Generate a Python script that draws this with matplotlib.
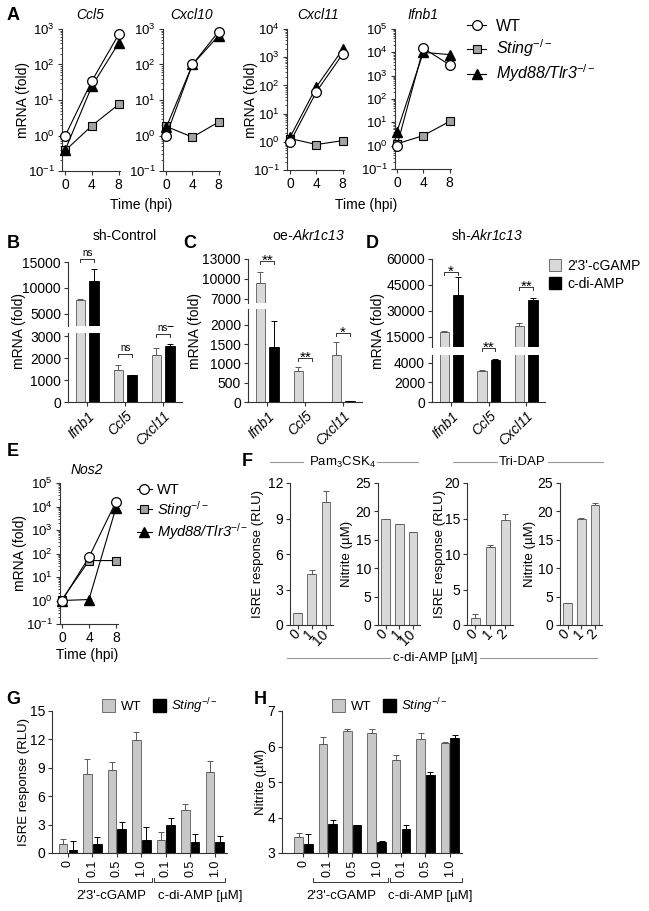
import numpy as np
import matplotlib
matplotlib.use('Agg')
from matplotlib import pyplot as plt
from matplotlib import ticker
from matplotlib.lines import Line2D
from matplotlib.patches import Patch

plt.rcParams['font.family'] = ['Liberation Sans', 'DejaVu Sans']
plt.rcParams['mathtext.fontset'] = 'custom'
plt.rcParams['mathtext.rm'] = 'Liberation Sans'
plt.rcParams['mathtext.it'] = 'Liberation Sans:italic'
plt.rcParams['mathtext.bf'] = 'Liberation Sans:bold'
plt.rcParams['font.size'] = 10
plt.rcParams['axes.linewidth'] = 0.8
plt.rcParams['axes.edgecolor'] = '#333333'
for a in ('xtick', 'ytick'):
    plt.rcParams[a + '.major.size'] = 3
    plt.rcParams[a + '.major.width'] = 0.8
    plt.rcParams[a + '.color'] = '#333333'
    plt.rcParams[a + '.labelcolor'] = 'black'
    plt.rcParams[a + '.major.pad'] = 2
    plt.rcParams[a + '.labelsize'] = 10

# ---------------- data ----------------
hpi = [0, 4, 8]
a_genes = ['Ccl5', 'Cxcl10', 'Cxcl11', 'Ifnb1']
a_wt = [[1.0, 35, 700], [1.0, 100, 850], [1.0, 60, 1300], [1.0, 15000, 2900]]
a_sting = [[0.38, 1.9, 7.5], [1.8, 0.9, 2.4], [1.3, 0.8, 1.1], [1.2, 2.7, 11]]
a_myd = [[0.4, 25, 400], [1.7, 100, 650], [1.5, 90, 1900], [4.0, 10000, 8000]]

bcd_genes = ['Ifnb1', 'Ccl5', 'Cxcl11']
b_cgamp = [7600, 1450, 2150]
b_cgamp_err = [300, 250, 300]
b_cdi = [11300, 1250, 2550]
b_cdi_err = [2400, 0, 100]
c_cgamp = [9400, 800, 1220]
c_cgamp_err = [1600, 110, 340]
c_cdi = [1430, 10, 15]
c_cdi_err = [670, 0, 0]
d_cgamp = [18000, 3200, 21500]
d_cgamp_err = [300, 100, 1500]
d_cdi = [39500, 4300, 36200]
d_cdi_err = [10000, 80, 1300]

nos2_wt = [1.0, 70, 16000]
nos2_sting = [1.1, 50, 50]
nos2_myd = [1.0, 1.1, 9000]

pam_doses = ['0', '1', '10']
tri_doses = ['0', '1', '2']
pam_isre = [1.0, 4.3, 10.4]
pam_isre_err = [0.05, 0.35, 0.9]
pam_no = [18.6, 17.7, 16.3]
pam_no_err = [0.1, 0.1, 0.15]
tri_isre = [1.0, 11.0, 14.8]
tri_isre_err = [0.5, 0.3, 0.9]
tri_no = [3.8, 18.6, 21.2]
tri_no_err = [0.05, 0.2, 0.2]

gh_doses = ['0', '0.1', '0.5', '1.0', '0.1', '0.5', '1.0']
g_wt = [1.0, 8.3, 8.8, 11.9, 1.4, 4.5, 8.6]
g_wt_err = [0.5, 1.6, 0.8, 0.9, 0.8, 0.7, 1.1]
g_ko = [0.3, 1.0, 2.5, 1.4, 3.0, 1.2, 1.2]
g_ko_err = [1.0, 0.7, 0.8, 1.3, 0.7, 0.8, 0.6]
h_wt = [3.45, 6.08, 6.43, 6.37, 5.62, 6.2, 6.1]
h_wt_err = [0.11, 0.18, 0.05, 0.11, 0.14, 0.17, 0.03]
h_ko = [3.25, 3.83, 3.79, 3.3, 3.67, 5.2, 6.25]
h_ko_err = [0.28, 0.09, 0.0, 0.05, 0.13, 0.09, 0.07]

GRAY_A = '#a3a3a3'
GRAY = '#d9d9d9'
GRAY_GH = '#c8c8c8'
EDGE = '#5a5a5a'
STING = r'Sting$^{-/-}$'
MYD = r'Myd88/Tlr3$^{-/-}$'

W, H = 649, 911
fig = plt.figure(figsize=(W / 100, H / 100), dpi=100)
fig.patch.set_facecolor('white')


def box(l, t, r, b):
    return fig.add_axes([l / W, 1 - b / H, (r - l) / W, (b - t) / H])


def ftext(x, y, s, **kw):
    kw.setdefault('ha', 'center')
    kw.setdefault('va', 'center')
    fig.text(x / W, 1 - y / H, s, **kw)


def fline(xs, ys, color='#999999', lw=0.8):
    fig.add_artist(Line2D([x / W for x in xs], [1 - y / H for y in ys],
                          transform=fig.transFigure, color=color, lw=lw))


def clean(ax):
    ax.spines[['top', 'right']].set_visible(False)


def italicize(leg):
    for t in leg.get_texts():
        if t.get_text() != 'WT':
            t.set_fontstyle('italic')


def log_axis(ax, ymax, x0):
    ax.set_yscale('log')
    ax.set_ylim(0.1, ymax)
    ax.set_xlim(x0, 8.2)
    ax.set_xticks(hpi)
    ax.yaxis.set_major_locator(ticker.LogLocator(base=10, numticks=12))
    ax.yaxis.set_minor_locator(ticker.LogLocator(base=10, subs=np.arange(2, 10), numticks=12))
    ax.yaxis.set_minor_formatter(ticker.NullFormatter())
    ax.tick_params(which='minor', length=1.5, width=0.6)
    ax.tick_params(axis='y', labelsize=9.5)
    clean(ax)


def three_lines(ax, wt, sting, myd):
    ax.plot(hpi, sting, '-s', color='k', lw=0.8, ms=6, mfc=GRAY_A, mec='k',
            mew=0.8, clip_on=False, zorder=3, label=STING)
    ax.plot(hpi, myd, '-^', color='k', lw=0.8, ms=6.5, mfc='k', mec='k',
            clip_on=False, zorder=4, label=MYD)
    ax.plot(hpi, wt, '-o', color='k', lw=0.8, ms=7, mfc='white', mec='k',
            mew=0.9, clip_on=False, zorder=5, label='WT')


def sig(ax, xc, y, txt, fs=11, dy=0):
    inv = ax.transData.inverted()
    py = ax.transData.transform((xc, y))[1]
    ylow = inv.transform((0, py - 3))[1]
    ax.plot([xc - 0.18, xc - 0.18, xc + 0.18, xc + 0.18], [ylow, y, y, ylow],
            color='#333333', lw=0.7, clip_on=False)
    ax.annotate(txt, (xc, y), xytext=(0, dy), textcoords='offset points',
                ha='center', va='baseline', fontsize=fs, annotation_clip=False)


def broken_panel(l, r, hi_px, lo_px, hi_lim, lo_lim, hi_ticks, lo_ticks,
                 gray, gray_err, black, black_err):
    ah = box(l, hi_px[0], r, hi_px[1])
    al = box(l, lo_px[0], r, lo_px[1])
    x = np.arange(len(gray))
    for ax in (ah, al):
        ax.bar(x - 0.18, gray, 0.25, color=GRAY, edgecolor=EDGE, lw=0.6)
        ax.bar(x + 0.18, black, 0.25, color='k', edgecolor='k', lw=0.6)
        ax.errorbar(x - 0.18, gray, yerr=[np.zeros(len(gray)), gray_err], fmt='none',
                    ecolor=EDGE, elinewidth=0.7, capsize=2, capthick=0.7)
        ax.errorbar(x + 0.18, black, yerr=[np.zeros(len(black)), black_err], fmt='none',
                    ecolor='k', elinewidth=0.7, capsize=2, capthick=0.7)
        ax.set_xlim(-0.51, 2.5)
        clean(ax)
    ah.set_ylim(*hi_lim)
    al.set_ylim(*lo_lim)
    ah.set_yticks(hi_ticks)
    al.set_yticks(lo_ticks)
    ah.spines['bottom'].set_visible(False)
    ah.tick_params(bottom=False, labelbottom=False)
    al.set_xticks(x)
    al.set_xticklabels(bcd_genes, rotation=45, ha='right', rotation_mode='anchor',
                       fontstyle='italic')
    return ah, al


def single_bars(l, r, vals, errs, labels, ymax, yticks):
    ax = box(l, 483, r, 625)
    x = np.arange(len(vals))
    ax.bar(x, vals, 0.63, color=GRAY, edgecolor=EDGE, lw=0.6)
    ax.errorbar(x, vals, yerr=[np.zeros(len(vals)), errs], fmt='none',
                ecolor=EDGE, elinewidth=0.7, capsize=2, capthick=0.7)
    ax.set_xlim(-0.55, 2.5)
    ax.set_ylim(0, ymax)
    ax.set_yticks(yticks)
    ax.set_xticks(x)
    ax.set_xticklabels(labels, rotation=45, ha='right', va='center', rotation_mode='anchor')
    clean(ax)
    return ax


def pair_bars(l, r, wt, wt_err, ko, ko_err, ylim, yticks, x0):
    ax = box(l, 711, r, 853)
    x = np.arange(len(wt))
    ax.bar(x - 0.2, wt, 0.35, color=GRAY_GH, edgecolor=EDGE, lw=0.6)
    ax.bar(x + 0.2, ko, 0.35, color='k', edgecolor='k', lw=0.6)
    ax.errorbar(x - 0.2, wt, yerr=[np.zeros(len(wt)), wt_err], fmt='none',
                ecolor=EDGE, elinewidth=0.7, capsize=2, capthick=0.7)
    ax.errorbar(x + 0.2, ko, yerr=[np.zeros(len(ko)), ko_err], fmt='none',
                ecolor='k', elinewidth=0.7, capsize=2, capthick=0.7)
    ax.set_xlim(x0, 6.5)
    ax.set_ylim(*ylim)
    ax.set_yticks(yticks)
    ax.set_xticks(x)
    ax.set_xticklabels(gh_doses, rotation=90, ha='center', va='top', fontsize=9)
    clean(ax)
    return ax


# ---------------- A ----------------
a_boxes = [(62, 29, 120, 171, 1e3, -0.5), (163, 29, 220, 171, 1e3, -0.5),
           (287, 29, 344, 170, 1e4, -0.5), (395, 29, 451, 169, 1e5, -0.3)]
a_title_x = [90, 192, 318, 423]
for i, (l, t, r, b, ymax, x0) in enumerate(a_boxes):
    ax = box(l, t, r, b)
    three_lines(ax, a_wt[i], a_sting[i], a_myd[i])
    log_axis(ax, ymax, x0)
    ftext(a_title_x[i], 15, a_genes[i], fontstyle='italic', fontsize=10)
ftext(23, 100, 'mRNA (fold)', rotation=90, fontsize=10)
ftext(251, 100, 'mRNA (fold)', rotation=90, fontsize=10)
ftext(141, 205, 'Time (hpi)', fontsize=10)
ftext(366, 205, 'Time (hpi)', fontsize=10)
h, lab = ax.get_legend_handles_labels()
order = [2, 0, 1]
leg = fig.legend([h[k] for k in order], [lab[k] for k in order], loc='upper left',
                 bbox_to_anchor=(467 / W, 1 - 19 / H), frameon=False, fontsize=11.5,
                 handlelength=1.2, handletextpad=0.6, labelspacing=0.22,
                 borderpad=0, borderaxespad=0)
italicize(leg)

# ---------------- B, C, D ----------------
bh, bl = broken_panel(68, 182, (262, 326), (333, 402), (2690, 15000), (0, 3140),
                      [5000, 10000, 15000], [0, 1000, 2000, 3000],
                      b_cgamp, b_cgamp_err, b_cdi, b_cdi_err)
sig(bh, 0, 15600, 'ns', fs=7, dy=2)
sig(bl, 1, 2180, 'ns', fs=7, dy=2)
sig(bl, 2, 3100, 'ns', fs=7, dy=2)

ch, cl = broken_panel(248, 362, (259, 303), (309, 402), (6400, 13000), (0, 2415),
                      [7000, 10000, 13000], [0, 500, 1000, 1500, 2000],
                      c_cgamp, c_cgamp_err, c_cdi, c_cdi_err)
sig(ch, 0, 12700, '**', dy=-3)
sig(cl, 1, 1140, '**', dy=-3)
sig(cl, 2, 1790, '*', dy=-3)

dh, dl = broken_panel(432, 545, (259, 347), (355, 402), (9230, 60000), (0, 4820),
                      [15000, 30000, 45000, 60000], [0, 2000, 4000],
                      d_cgamp, d_cgamp_err, d_cdi, d_cdi_err)
sig(dh, 0, 52500, '*', dy=-3)
sig(dl, 1, 5540, '**', dy=-3)
sig(dh, 2, 43850, '**', dy=-3)

ftext(19, 331, 'mRNA (fold)', rotation=90, fontsize=10)
ftext(195, 331, 'mRNA (fold)', rotation=90, fontsize=10)
ftext(378, 331, 'mRNA (fold)', rotation=90, fontsize=10)
ftext(125, 236, 'sh-Control', fontsize=10)
ftext(308, 236, r'$\mathrm{oe}$-Akr1c13', fontsize=10, fontstyle='italic')
ftext(487, 236, r'$\mathrm{sh}$-Akr1c13', fontsize=10, fontstyle='italic')
fig.legend([Patch(fc=GRAY, ec=EDGE, lw=0.6), Patch(fc='k', ec='k')],
           ["2'3'-cGAMP", 'c-di-AMP'], loc='upper left',
           bbox_to_anchor=(549 / W, 1 - 259 / H), frameon=False, fontsize=10,
           handlelength=0.85, handleheight=0.95, handletextpad=0.5,
           labelspacing=0.3, borderpad=0, borderaxespad=0)

# ---------------- E ----------------
ax = box(60, 483, 118, 624)
three_lines(ax, nos2_wt, nos2_sting, nos2_myd)
log_axis(ax, 1e5, -0.3)
ax.set_xlim(-0.3, 8.3)
ftext(87, 470, 'Nos2', fontstyle='italic', fontsize=10)
ftext(20, 553, 'mRNA (fold)', rotation=90, fontsize=10)
ftext(87, 655, 'Time (hpi)', fontsize=10)
h, lab = ax.get_legend_handles_labels()
leg = fig.legend([h[k] for k in order], [lab[k] for k in order], loc='upper left',
                 bbox_to_anchor=(137 / W, 1 - 483 / H), frameon=False, fontsize=10.5,
                 handlelength=1.0, handletextpad=0.4, labelspacing=0.12,
                 borderpad=0, borderaxespad=0)
italicize(leg)

# ---------------- F ----------------
single_bars(290, 333, pam_isre, pam_isre_err, pam_doses, 12, [0, 3, 6, 9, 12])
single_bars(378, 420, pam_no, pam_no_err, pam_doses, 25, [0, 5, 10, 15, 20, 25])
single_bars(467, 513, tri_isre, tri_isre_err, tri_doses, 20, [0, 5, 10, 15, 20])
single_bars(560, 602, tri_no, tri_no_err, tri_doses, 25, [0, 5, 10, 15, 20, 25])
ftext(258, 554, 'ISRE response (RLU)', rotation=90, fontsize=9.5)
ftext(347, 554, 'Nitrite (µM)', rotation=90, fontsize=9.5)
ftext(440, 554, 'ISRE response (RLU)', rotation=90, fontsize=9.5)
ftext(530, 554, 'Nitrite (µM)', rotation=90, fontsize=9.5)
ftext(343, 462, r'Pam$_3$CSK$_4$', fontsize=9.5)
ftext(522, 462, 'Tri-DAP', fontsize=9.5)
fline([270, 303], [462, 462])
fline([377, 418], [462, 462])
fline([453, 497], [462, 462])
fline([548, 603], [462, 462])
ftext(435, 658, 'c-di-AMP [µM]', fontsize=9.5)
fline([287, 390], [658, 658])
fline([480, 597], [658, 658])

# ---------------- G, H ----------------
pair_bars(52, 227, g_wt, g_wt_err, g_ko, g_ko_err, (0, 15), [0, 3, 6, 9, 12, 15], -0.65)
pair_bars(282, 462, h_wt, h_wt_err, h_ko, h_ko_err, (3, 7), [3, 4, 5, 6, 7], -0.88)
ftext(24, 782, 'ISRE response (RLU)', rotation=90, fontsize=9.5)
ftext(261, 782, 'Nitrite (µM)', rotation=90, fontsize=9.5)
for (x0, x1) in [(78, 152), (154, 225), (313, 388), (390, 462)]:
    fline([x0, x0, x1, x1], [878, 882, 882, 878], color='#333333', lw=0.7)
for xc in (0, 230):
    ftext(111 + xc, 896, "2'3'-cGAMP", fontsize=9.5)
    ftext(200 + xc, 896, 'c-di-AMP [µM]', fontsize=9.5)
for lx in (102, 332):
    leg = fig.legend([Patch(fc=GRAY_GH, ec=EDGE, lw=0.6), Patch(fc='k', ec='k')],
                     ['WT', STING], loc='upper left', ncol=2,
                     bbox_to_anchor=(lx / W, 1 - 696 / H), frameon=False, fontsize=9.5,
                     handlelength=1.0, handleheight=1.1, handletextpad=0.4,
                     columnspacing=0.9, borderpad=0, borderaxespad=0)
    italicize(leg)

# panel letters
for s, x, y in [('A', 13, 15), ('B', 13, 243), ('C', 190, 243), ('D', 372, 243),
                ('E', 13, 452), ('F', 247, 462), ('G', 13, 700), ('H', 260, 700)]:
    ftext(x, y, s, fontsize=13, fontweight='bold')

fig.savefig('out.png', dpi=100)
